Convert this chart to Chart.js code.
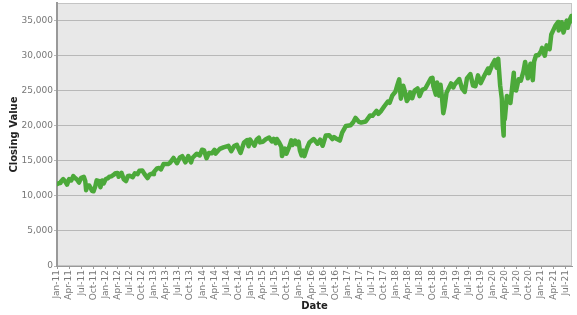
<!DOCTYPE html>
<html>
<head>
<meta charset="utf-8">
<script src="https://cdn.jsdelivr.net/npm/chart.js@4"></script>
<style>
  html, body { margin: 0; padding: 0; background: #fff; }
  canvas { display: block; }
</style>
</head>
<body>
<canvas id="myChart" width="577" height="315"></canvas>
<script>
// closing values (date, close)
var dates = [
  '2011-01-03','2011-01-14','2011-01-28','2011-02-01','2011-02-18','2011-03-01','2011-03-16','2011-04-01','2011-04-18','2011-05-02',
  '2011-05-16','2011-06-01','2011-06-15','2011-07-01','2011-07-21','2011-08-01','2011-08-08','2011-08-15','2011-09-01','2011-09-22',
  '2011-10-03','2011-10-17','2011-10-27','2011-11-15','2011-11-25','2011-12-07','2011-12-19',
  '2012-01-03','2012-01-17','2012-02-01','2012-02-15','2012-03-01','2012-03-16','2012-04-02','2012-04-10','2012-05-01','2012-05-18',
  '2012-06-04','2012-06-19','2012-07-02','2012-07-25','2012-08-10','2012-08-31','2012-09-14','2012-10-05','2012-10-23','2012-11-15',
  '2012-11-30','2012-12-14','2012-12-31',
  '2013-01-02','2013-01-25','2013-02-11','2013-02-25','2013-03-14','2013-04-03','2013-04-18','2013-05-01','2013-05-28','2013-06-24',
  '2013-07-15','2013-08-02','2013-08-27','2013-09-18','2013-10-08','2013-10-18','2013-11-21','2013-12-13','2013-12-31',
  '2014-01-15','2014-02-03','2014-02-21','2014-03-14','2014-04-02','2014-04-11','2014-05-12','2014-06-09','2014-07-16','2014-08-07',
  '2014-08-29','2014-09-19','2014-10-16','2014-11-12','2014-12-05','2014-12-16','2014-12-26',
  '2015-01-16','2015-01-30','2015-02-17','2015-03-02','2015-03-11','2015-04-01','2015-04-24','2015-05-19','2015-06-09','2015-06-23',
  '2015-07-08','2015-07-16','2015-08-03','2015-08-20','2015-08-25','2015-09-16','2015-09-28','2015-10-22','2015-11-03','2015-11-13',
  '2015-12-01','2015-12-14','2015-12-29',
  '2016-01-07','2016-01-20','2016-02-01','2016-02-11','2016-03-01','2016-03-18','2016-04-20','2016-05-19','2016-06-08','2016-06-27',
  '2016-07-20','2016-08-15','2016-09-09','2016-09-22','2016-10-13','2016-11-04','2016-11-22','2016-12-20',
  '2017-01-25','2017-02-14','2017-03-01','2017-03-27','2017-04-13','2017-05-17','2017-06-20','2017-07-07','2017-08-07','2017-08-21',
  '2017-09-12','2017-10-05','2017-11-01','2017-11-15','2017-12-04','2017-12-28',
  '2018-01-12','2018-01-26','2018-02-08','2018-02-26','2018-03-08','2018-03-23','2018-04-06','2018-04-18','2018-05-03','2018-05-21',
  '2018-06-12','2018-06-28','2018-07-17','2018-08-10','2018-09-21','2018-10-03','2018-10-10','2018-10-29','2018-11-07','2018-11-23',
  '2018-12-03','2018-12-14','2018-12-24',
  '2019-01-03','2019-01-18','2019-02-22','2019-03-08','2019-03-19','2019-04-23','2019-05-13','2019-06-03','2019-06-20','2019-07-15',
  '2019-08-05','2019-08-23','2019-09-12','2019-10-02','2019-10-28','2019-11-27','2019-12-03','2019-12-27',
  '2020-01-17','2020-01-31','2020-02-12','2020-02-27','2020-03-09','2020-03-16','2020-03-23','2020-03-26','2020-04-01','2020-04-17',
  '2020-05-13','2020-06-08','2020-06-11','2020-06-26','2020-07-14','2020-07-31','2020-08-20','2020-09-02','2020-09-23','2020-10-12',
  '2020-10-30','2020-11-09','2020-11-24','2020-12-11','2020-12-31',
  '2021-01-08','2021-01-29','2021-02-12','2021-03-04','2021-03-17','2021-04-16','2021-05-07','2021-05-12','2021-06-04','2021-06-18',
  '2021-07-12','2021-07-19','2021-08-06','2021-08-16','2021-08-19','2021-08-20'
];
var closes = [
  11670,11790,11820,12040,12390,12060,11610,12380,12200,12810,
  12550,12290,11900,12580,12720,12130,10810,11480,11490,10730,
  10660,11400,12210,12100,11230,12200,11770,
  12400,12480,12720,12780,12980,13230,13260,12720,13280,12370,
  12100,12840,12870,12680,13210,13090,13590,13610,13100,12540,
  13030,13140,13100,
  13410,13900,13970,13780,14540,14550,14540,14700,15410,14660,
  15480,15660,14780,15680,14780,15400,16010,15760,16580,
  16480,15370,16100,16070,16570,16030,16700,16920,17140,16370,
  17100,17280,16120,17610,17960,17070,18050,
  17510,17160,18050,18290,17630,17700,18080,18310,17760,18120,
  17510,18120,17600,16990,15670,16740,16000,17170,17920,17250,
  17890,17370,17720,
  16510,15770,16450,15660,16870,17600,18100,17440,18010,17140,
  18600,18640,18090,18390,18100,17890,19020,19970,
  20070,20500,21120,20550,20450,20600,21470,21410,22120,21700,
  22120,22780,23440,23270,24290,24840,
  25800,26620,23860,25710,24900,23530,23930,24750,23930,25010,
  25320,24220,25120,25310,26740,26830,25600,24440,26180,24290,
  25830,24100,21790,
  22690,24710,26030,25450,25890,26660,25320,24820,26750,27360,
  25720,25630,27180,26080,27090,28160,27500,28650,
  29350,28260,29550,25770,23850,20190,18590,22550,20940,24240,
  23250,27570,25130,25020,26640,26430,27740,29100,26760,28840,
  26500,29160,30050,30050,30610,
  31100,29980,31460,30920,33020,34200,34780,33590,34760,33290,
  34990,33960,35210,35630,34890,35120
];
var yTicks = [0, 5000, 10000, 15000, 20000, 25000, 30000, 35000];
var monthNames = ['Jan','Feb','Mar','Apr','May','Jun','Jul','Aug','Sep','Oct','Nov','Dec'];
var startYear = 2011;

// position of a date in months since Jan 2011
function monthPos(d) {
  var p = d.split('-');
  return (+p[0] - startYear) * 12 + (+p[1] - 1) + (+p[2] - 1) / 31;
}

var points = dates.map(function (d, i) {
  return { x: monthPos(d), y: closes[i] };
});

// one tick per quarter, Jan-11 .. Jul-21
var xTicks = [];
for (var m = 0; m <= 126; m += 3) xTicks.push(m);

var plotBg = {
  id: 'plotBg',
  beforeDraw: function (chart) {
    var ctx = chart.ctx, a = chart.chartArea;
    ctx.save();
    ctx.fillStyle = '#e8e8e8';
    ctx.fillRect(a.left, a.top, a.right - a.left, a.bottom - a.top);
    ctx.strokeStyle = '#c4c4c4';
    ctx.lineWidth = 1;
    ctx.strokeRect(a.left + 0.5, a.top + 0.5, a.right - a.left - 1, a.bottom - a.top - 1);
    ctx.restore();
  }
};

const config = {
  type: 'line',
  data: {
    datasets: [{
      label: 'Closing Value',
      data: points,
      borderColor: '#4ca93a',
      borderWidth: 4.5,
      borderJoinStyle: 'round',
      borderCapStyle: 'round',
      pointRadius: 0,
      tension: 0,
      fill: false
    }]
  },
  options: {
    responsive: false,
    animation: false,
    devicePixelRatio: 1,
    layout: { padding: { top: 3, right: 5, left: 0, bottom: 0 } },
    plugins: { legend: { display: false }, tooltip: { enabled: false } },
    scales: {
      x: {
        type: 'linear',
        min: 0,
        max: 127.65,
        afterBuildTicks: function (s) { s.ticks = xTicks.map(function (v) { return { value: v }; }); },
        afterFit: function (s) { s.height = 49; s.paddingLeft = 0; s.paddingRight = 0; },
        grid: { drawOnChartArea: false, drawTicks: true, tickLength: 3, color: '#999' },
        border: { color: '#999', width: 1 },
        ticks: {
          autoSkip: false,
          minRotation: 90,
          maxRotation: 90,
          padding: 1,
          color: '#777',
          font: { family: 'DejaVu Sans', size: 9 },
          callback: function (v) {
            var y = startYear + Math.floor(v / 12);
            return monthNames[v % 12] + '-' + String(y).slice(2);
          }
        },
        title: {
          display: true,
          text: 'Date',
          color: '#222',
          font: { family: 'DejaVu Sans', size: 10, weight: 'bold' },
          padding: { top: 0, bottom: 3 }
        }
      },
      y: {
        min: 0,
        max: 37500,
        afterBuildTicks: function (s) { s.ticks = yTicks.map(function (v) { return { value: v }; }); },
        afterFit: function (s) { s.width = 57; s.paddingTop = 0; s.paddingBottom = 0; },
        grid: { color: '#b8b8b8', lineWidth: 1, tickLength: 3 },
        border: { color: '#999', width: 2 },
        ticks: {
          padding: 1,
          color: '#777',
          font: { family: 'DejaVu Sans', size: 9 },
          callback: function (v) { return v.toLocaleString('en-US'); }
        },
        title: {
          display: true,
          text: 'Closing Value',
          color: '#222',
          font: { family: 'DejaVu Sans', size: 10, weight: 'bold' },
          padding: { top: 8, bottom: 0 }
        }
      }
    }
  },
  plugins: [plotBg]
};

const myChart = new Chart(document.getElementById('myChart'), config);
</script>
</body>
</html>
